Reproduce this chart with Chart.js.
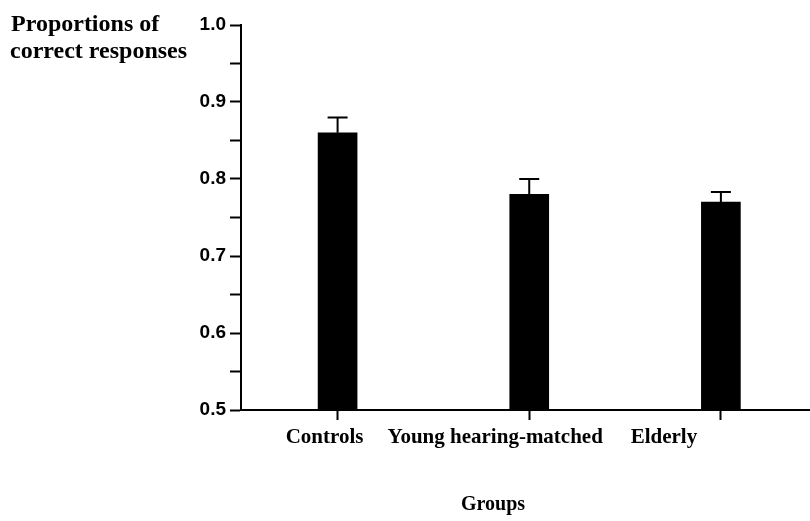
<!DOCTYPE html>
<html>
<head>
<meta charset="utf-8">
<script src="https://cdn.jsdelivr.net/npm/chart.js@4/dist/chart.umd.min.js"></script>
<style>
  html, body { margin: 0; padding: 0; background: #fff; }
  #wrap { width: 810px; height: 521px; }
</style>
</head>
<body>
<div id="wrap"><canvas id="myChart"></canvas></div>
<script>
// Proportions of correct responses per group (bars + upward SEM)

const groups = ["Controls", "Young hearing-matched", "Elderly"];
const means = [0.86, 0.78, 0.77];
const errors = [0.02, 0.02, 0.013];
const yTicks = [0.5, 0.6, 0.7, 0.8, 0.9, 1.0];

// label nudges to the left, as in the original figure
const labelShift = [-13, -34, -57];

const serif = "'Liberation Serif', 'Times New Roman', serif";
const sans = "'Liberation Sans', Arial, sans-serif";

const extras = {
  id: "extras",
  afterDatasetsDraw(chart) {
    const ctx = chart.ctx;
    const xs = chart.scales.x;
    const ys = chart.scales.y;
    ctx.save();
    ctx.strokeStyle = "#000";
    ctx.lineWidth = 2;
    for (let i = 0; i < means.length; i++) {
      const x = xs.getPixelForValue(i + 1);
      const y0 = ys.getPixelForValue(means[i]);
      const y1 = ys.getPixelForValue(means[i] + errors[i]);
      ctx.beginPath();
      ctx.moveTo(x, y0);
      ctx.lineTo(x, y1);
      ctx.moveTo(x - 10, y1);
      ctx.lineTo(x + 10, y1);
      ctx.stroke();
    }
    ctx.restore();
  },
  afterDraw(chart) {
    const ctx = chart.ctx;
    const xs = chart.scales.x;
    ctx.save();
    ctx.fillStyle = "#000";
    ctx.textAlign = "center";
    ctx.textBaseline = "alphabetic";
    ctx.font = "bold 21px " + serif;
    for (let i = 0; i < groups.length; i++) {
      ctx.fillText(groups[i], xs.getPixelForValue(i + 1) + labelShift[i], 443);
    }
    ctx.font = "bold 20px " + serif;
    ctx.fillText("Groups", 493, 510);
    ctx.textAlign = "left";
    ctx.font = "bold 24px " + serif;
    ctx.fillText("Proportions of", 11, 31);
    ctx.fillText("correct responses", 10, 58);
    ctx.restore();
  },
};

const ctx = document.getElementById("myChart");

new Chart(ctx, {
  type: "bar",
  data: {
    datasets: [
      {
        data: means.map((v, i) => ({ x: i + 1, y: v })),
        backgroundColor: "#000",
        borderWidth: 0,
        barThickness: 39,
      },
    ],
  },
  options: {
    responsive: true,
    maintainAspectRatio: false,
    animation: false,
    layout: { padding: { top: 25, right: 0, left: 0, bottom: 0 } },
    plugins: { legend: { display: false }, tooltip: { enabled: false } },
    scales: {
      x: {
        type: "linear",
        offset: false,
        min: 0.496,
        max: 3.465,
        afterBuildTicks: (scale) => {
          scale.ticks = groups.map((g, i) => ({ value: i + 1 }));
        },
        afterFit: (scale) => {
          scale.height = 521 - 410;
        },
        ticks: { callback: () => "", padding: 0 },
        grid: {
          offset: false,
          drawOnChartArea: false,
          tickLength: 10,
          tickWidth: 2,
          tickColor: "#000",
        },
        border: { color: "#000", width: 2 },
      },
      y: {
        min: 0.5,
        max: 1.0,
        afterBuildTicks: (scale) => {
          const t = [];
          for (let k = 0; k <= 10; k++) t.push({ value: 0.5 + k * 0.05 });
          scale.ticks = t;
        },
        afterFit: (scale) => {
          scale.width = 241;
        },
        ticks: {
          padding: 4,
          color: "#000",
          font: { family: sans, size: 19, weight: "bold" },
          callback: (v) => {
            const hit = yTicks.find((t) => Math.abs(t - v) < 1e-6);
            return hit !== undefined ? hit.toFixed(1) : "";
          },
        },
        grid: {
          drawOnChartArea: false,
          tickLength: 11,
          tickWidth: 2,
          tickColor: "#000",
        },
        border: { color: "#000", width: 2 },
      },
    },
  },
  plugins: [extras],
});
</script>
</body>
</html>
